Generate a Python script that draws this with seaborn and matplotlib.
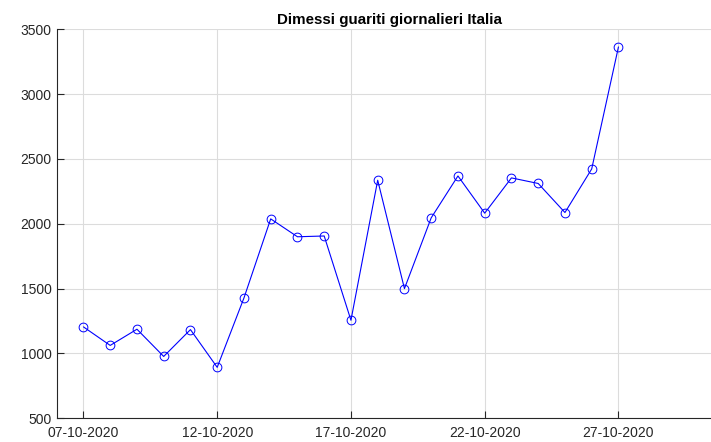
import pandas as pd
import seaborn as sns
import matplotlib.pyplot as plt
import matplotlib.dates as mdates

# Dati: dimessi guariti giornalieri
giorni = pd.date_range('2020-10-07', '2020-10-27', freq='D')
guariti = [1205, 1062, 1187, 977, 1184, 893, 1428, 2038, 1900, 1906, 1256,
           2336, 1500, 2046, 2369, 2082, 2354, 2311, 2087, 2423, 3364]
tick_giorni = ['2020-10-07', '2020-10-12', '2020-10-17', '2020-10-22', '2020-10-27']

df = pd.DataFrame({'data': giorni, 'guariti': guariti})

sns.set_style('white')
plt.rcParams['font.family'] = ['Liberation Sans', 'DejaVu Sans']

fig = plt.figure(figsize=(7.11, 4.42), dpi=100)
ax = fig.add_axes([56.7 / 711, 1 - 418.3 / 442, 1 - 56.7 / 711, (418.3 - 29.3) / 442])

sns.lineplot(data=df, x='data', y='guariti', ax=ax, color='blue', linewidth=0.8,
             marker='o', markersize=6.3, markerfacecolor='none',
             markeredgecolor='blue', markeredgewidth=0.7)

# l'asse continua oltre il bordo destro dell'immagine
start = pd.Timestamp('2020-10-06')
ax.set_xlim(start, start + pd.Timedelta(days=(711 - 56.7) / 26.75))
ax.set_ylim(500, 3500)
ax.set_yticks(range(500, 3501, 500))
ax.set_xticks(pd.to_datetime(tick_giorni))
ax.xaxis.set_major_formatter(mdates.DateFormatter('%d-%m-%Y'))

ax.grid(True, color='#dcdcdc', linewidth=0.8)
ax.set_axisbelow(True)
for s in ['top', 'right']:
    ax.spines[s].set_visible(False)
for s in ['left', 'bottom']:
    ax.spines[s].set_color('#262626')
    ax.spines[s].set_linewidth(0.8)
ax.tick_params(direction='in', length=5, width=0.8, color='#262626',
               labelcolor='#262626', labelsize=10, bottom=True, left=True)
ax.tick_params(axis='x', pad=5.5)

ax.set_xlabel('')
ax.set_ylabel('')
ax.set_title('Dimessi guariti giornalieri Italia', fontsize=10.9, fontweight='bold',
             color='black', pad=4, x=0.509)

fig.savefig('out.png', dpi=100)
